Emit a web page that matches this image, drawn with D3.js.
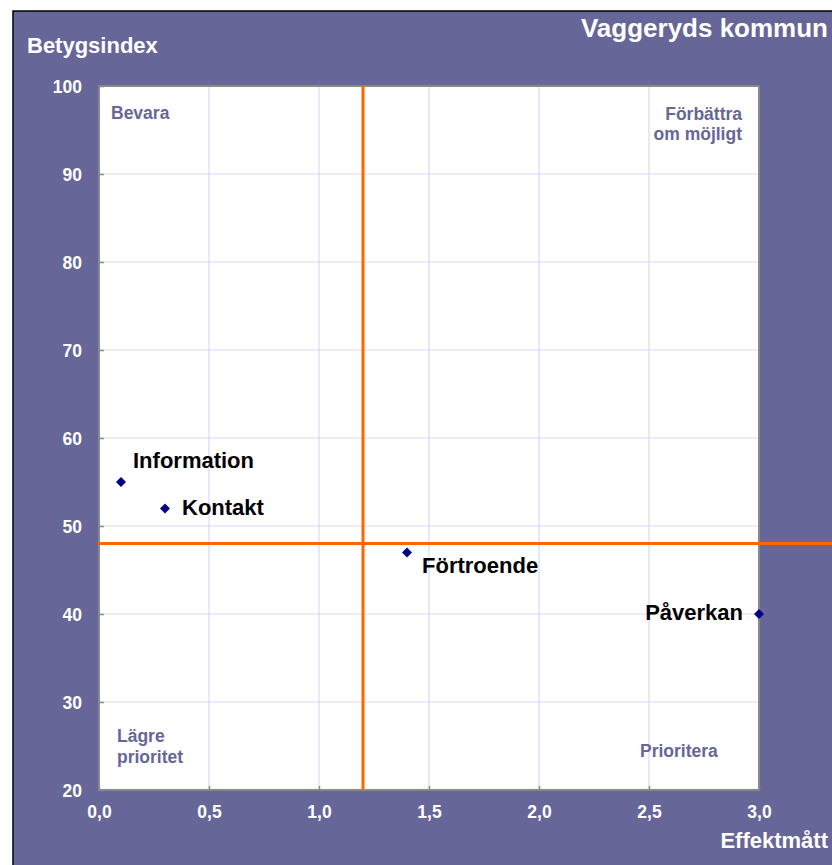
<!DOCTYPE html>
<html>
<head>
<meta charset="utf-8">
<script src="https://cdn.jsdelivr.net/npm/d3@7"></script>
<style>
  body { margin: 0; background: #fff; }
  svg { display: block; font-family: "Liberation Sans", Arial, sans-serif; font-weight: bold; }
</style>
</head>
<body>
<div id="chart"></div>
<script>
// data
const items = ["Information", "Kontakt", "Förtroende", "Påverkan"];
const effekt = [0.1, 0.3, 1.4, 3.0];
const betyg = [55, 52, 47, 40];
const xTicks = [0, 0.5, 1.0, 1.5, 2.0, 2.5, 3.0];
const yTicks = [20, 30, 40, 50, 60, 70, 80, 90, 100];
const refX = 1.2;
const refY = 48;

const W = 832, H = 865;
const plot = { left: 99, right: 759, top: 86, bottom: 790 };
const bg = "#666699";

const svg = d3.select("#chart").append("svg")
  .attr("width", W)
  .attr("height", H);

// outer frame
svg.append("rect")
  .attr("x", 13).attr("y", 11)
  .attr("width", W).attr("height", H)
  .attr("fill", bg)
  .attr("stroke", "#000")
  .attr("stroke-width", 1.5);

const x = d3.scaleLinear().domain([0, 3]).range([plot.left, plot.right]);
const y = d3.scaleLinear().domain([20, 100]).range([plot.bottom, plot.top]);

// plot area
svg.append("rect")
  .attr("x", plot.left).attr("y", plot.top)
  .attr("width", plot.right - plot.left)
  .attr("height", plot.bottom - plot.top)
  .attr("fill", "#fff");

// gridlines
svg.append("g").selectAll("line.vg")
  .data(xTicks.slice(1, -1))
  .enter().append("line")
    .attr("x1", d => x(d)).attr("x2", d => x(d))
    .attr("y1", plot.top).attr("y2", plot.bottom)
    .attr("stroke", "#d8d8fa").attr("stroke-width", 1.2);
svg.append("g").selectAll("line.hg")
  .data(yTicks.slice(1, -1))
  .enter().append("line")
    .attr("x1", plot.left).attr("x2", plot.right)
    .attr("y1", d => y(d)).attr("y2", d => y(d))
    .attr("stroke", "#d8d8fa").attr("stroke-width", 1.2);

// axes (ticks inward, gray)
const fmt = d => d3.format(".1f")(d).replace(".", ",");
const xAxis = svg.append("g")
  .attr("transform", `translate(0,${plot.bottom})`)
  .call(d3.axisBottom(x).tickValues(xTicks).tickSize(-4).tickPadding(16).tickFormat(fmt));
const yAxis = svg.append("g")
  .attr("transform", `translate(${plot.left},0)`)
  .call(d3.axisLeft(y).tickValues(yTicks).tickSize(-5).tickPadding(17));

[xAxis, yAxis].forEach(a => {
  a.select(".domain").remove();
  a.selectAll(".tick line").attr("stroke", "#888").attr("stroke-width", 1.5);
  a.selectAll(".tick text")
    .attr("fill", "#fff")
    .style("font-size", "17.5px")
    .style("font-family", "Liberation Sans, Arial, sans-serif")
    .style("font-weight", "bold");
});
yAxis.selectAll(".tick text").attr("dy", "0.35em");

// plot border
svg.append("rect")
  .attr("x", plot.left).attr("y", plot.top)
  .attr("width", plot.right - plot.left)
  .attr("height", plot.bottom - plot.top)
  .attr("fill", "none")
  .attr("stroke", "#888")
  .attr("stroke-width", 2);

// reference lines
svg.append("line")
  .attr("x1", x(refX)).attr("x2", x(refX))
  .attr("y1", plot.top).attr("y2", plot.bottom)
  .attr("stroke", "#ff6600").attr("stroke-width", 3);
svg.append("line")
  .attr("x1", plot.left).attr("x2", W)
  .attr("y1", y(refY)).attr("y2", y(refY))
  .attr("stroke", "#ff6600").attr("stroke-width", 3);

// quadrant labels
const quad = svg.append("g").attr("fill", bg).style("font-size", "17.5px");
quad.append("text").attr("x", 111).attr("y", 119).text("Bevara");
quad.append("text").attr("x", 742).attr("y", 120).attr("text-anchor", "end").text("Förbättra");
quad.append("text").attr("x", 742).attr("y", 140).attr("text-anchor", "end").text("om möjligt");
quad.append("text").attr("x", 117).attr("y", 742).text("Lägre");
quad.append("text").attr("x", 117).attr("y", 763).text("prioritet");
quad.append("text").attr("x", 640).attr("y", 757).text("Prioritera");

// points
const pts = items.map((n, i) => ({ name: n, ex: effekt[i], by: betyg[i] }));
svg.append("g").selectAll("path.pt")
  .data(pts)
  .enter().append("path")
    .attr("class", "pt")
    .attr("d", d3.symbol(d3.symbolSquare, 50))
    .attr("transform", d => `translate(${x(d.ex)},${y(d.by)}) rotate(45)`)
    .attr("fill", "#000080");

// point labels
const place = {
  "Information": { dx: 12, dy: -14, anchor: "start" },
  "Kontakt":     { dx: 17, dy: 7,   anchor: "start" },
  "Förtroende":  { dx: 15, dy: 21,  anchor: "start" },
  "Påverkan":    { dx: -16, dy: 6,  anchor: "end" }
};
svg.append("g").selectAll("text.lbl")
  .data(pts)
  .enter().append("text")
    .attr("x", d => x(d.ex) + place[d.name].dx)
    .attr("y", d => y(d.by) + place[d.name].dy)
    .attr("text-anchor", d => place[d.name].anchor)
    .attr("fill", "#000")
    .style("font-size", "22px")
    .text(d => d.name);

// titles
svg.append("text").attr("x", 27).attr("y", 53)
  .attr("fill", "#fff").style("font-size", "22px").text("Betygsindex");
svg.append("text").attr("x", 828).attr("y", 848).attr("text-anchor", "end")
  .attr("fill", "#fff").style("font-size", "22px").text("Effektmått");
svg.append("text").attr("x", 828).attr("y", 37).attr("text-anchor", "end")
  .attr("fill", "#fff").style("font-size", "26px").text("Vaggeryds kommun");
</script>
</body>
</html>
